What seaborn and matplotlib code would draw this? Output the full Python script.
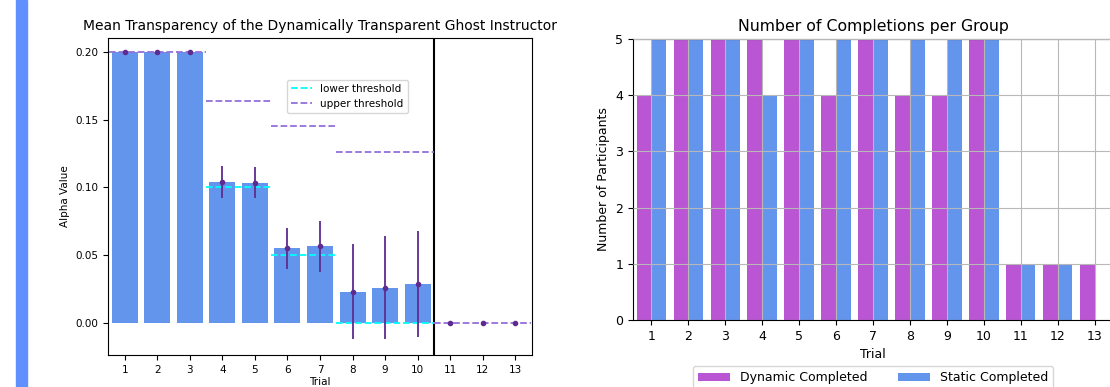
import numpy as np
import pandas as pd
import matplotlib
matplotlib.use("Agg")
import matplotlib.pyplot as plt
from matplotlib.patches import Rectangle
import seaborn as sns

# ---- data ----
trials = list(range(1, 14))
alpha_mean = [0.200, 0.200, 0.200, 0.104, 0.103, 0.055, 0.057, 0.023, 0.026, 0.029, 0.0, 0.0, 0.0]
alpha_low = [0.200, 0.200, 0.200, 0.092, 0.092, 0.040, 0.038, -0.012, -0.012, -0.010, 0.0, 0.0, 0.0]
alpha_high = [0.200, 0.200, 0.200, 0.116, 0.115, 0.070, 0.075, 0.058, 0.064, 0.068, 0.0, 0.0, 0.0]
upper_thr = [0.200, 0.200, 0.200, 0.164, 0.164, 0.145, 0.145, 0.126, 0.126, 0.126, 0.0, 0.0, 0.0]
lower_thr = [None, None, None, 0.100, 0.100, 0.050, 0.050, 0.0, 0.0, 0.0, None, None, None]

dynamic_completed = [4, 5, 5, 5, 5, 4, 5, 4, 4, 5, 1, 1, 1]
static_completed = [5, 5, 5, 4, 5, 5, 5, 5, 5, 5, 1, 1, 0]


def segments(values):
    # group consecutive trials sharing a threshold value
    segs = []
    start = 0
    for i in range(1, len(values) + 1):
        if i == len(values) or values[i] != values[start]:
            if values[start] is not None:
                segs.append((trials[start] - 0.5, trials[i - 1] + 0.5, values[start]))
            start = i
    return segs


fig = plt.figure(figsize=(11.1, 3.87), dpi=100)
fig.patches.append(Rectangle((16 / 1110, 0), 11 / 1110, 1, transform=fig.transFigure,
                             color="#6090ff", zorder=0))

# ==============================
# LEFT: mean transparency
# ==============================
ax1 = fig.add_axes([108 / 1110, 32 / 387, 424 / 1110, 317 / 387])
sns.barplot(x=trials, y=alpha_mean, native_scale=True, color="cornflowerblue",
            saturation=1, width=0.8, errorbar=None, ax=ax1)
yerr = [np.array(alpha_mean) - np.array(alpha_low), np.array(alpha_high) - np.array(alpha_mean)]
ax1.errorbar(trials, alpha_mean, yerr=yerr, fmt="o", color="#5e2b90", markersize=3,
             elinewidth=1.3, capsize=0, zorder=4)

for i, (x0, x1, y) in enumerate(segments(lower_thr)):
    ax1.hlines(y, x0, x1, colors="cyan", linestyles="--", linewidth=1.3,
               label="lower threshold" if i == 0 else None, zorder=3)
for i, (x0, x1, y) in enumerate(segments(upper_thr)):
    ax1.hlines(y, x0, x1, colors="mediumpurple", linestyles="--", linewidth=1.3,
               label="upper threshold" if i == 0 else None, zorder=3)

ax1.axvline(10.5, color="black", linewidth=1.5)
ax1.set_xlim(0.48, 13.52)
ax1.set_ylim(-0.0236, 0.2103)
ax1.set_xticks(trials)
ax1.set_yticks([0.0, 0.05, 0.10, 0.15, 0.20])
ax1.tick_params(labelsize=7.5)
ax1.set_title("Mean Transparency of the Dynamically Transparent Ghost Instructor", fontsize=10)
ax1.set_xlabel("Trial", fontsize=7.5, labelpad=1.5)
ax1.set_ylabel("Alpha Value", fontsize=7.5)
ax1.legend(loc="upper left", bbox_to_anchor=(0.41, 0.885), fontsize=7.5)

# ==============================
# RIGHT: completions per group
# ==============================
df = pd.DataFrame({
    "Trial": trials * 2,
    "Count": dynamic_completed + static_completed,
    "Group": ["Dynamic Completed"] * 13 + ["Static Completed"] * 13,
})

ax2 = fig.add_axes([633 / 1110, 67 / 387, 480 / 1110, 281 / 387])
sns.barplot(data=df, x="Trial", y="Count", hue="Group",
            palette=["mediumorchid", "cornflowerblue"], saturation=1,
            width=0.8, errorbar=None, ax=ax2)
ax2.set_axisbelow(False)
ax2.grid(True, color="#b8b8b8", linewidth=0.8)
ax2.set_xlim(-0.5, 12.5)
ax2.set_ylim(0, 5)
ax2.set_yticks([0, 1, 2, 3, 4, 5])
ax2.tick_params(labelsize=9)
ax2.set_title("Number of Completions per Group", fontsize=11.3)
ax2.set_xlabel("Trial", fontsize=9)
ax2.set_ylabel("Number of Participants", fontsize=9)
sns.move_legend(ax2, "upper center", bbox_to_anchor=(0.5, -0.143), ncol=2,
                title=None, frameon=True, fontsize=9, handlelength=2.6,
                columnspacing=2.4)

fig.savefig("out.png", dpi=100)
